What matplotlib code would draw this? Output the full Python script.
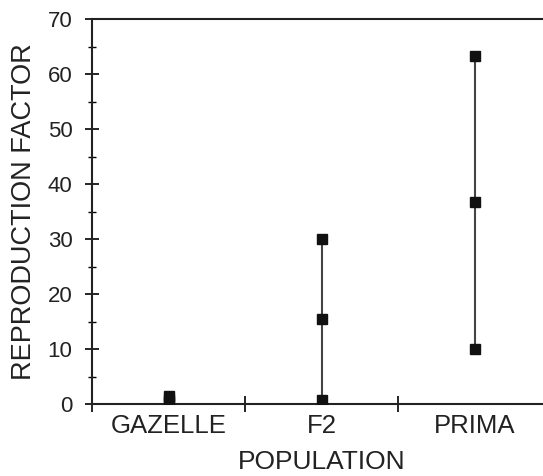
import matplotlib
matplotlib.use("Agg")
import matplotlib.pyplot as plt
from matplotlib.ticker import MultipleLocator, FixedLocator

plt.rcParams['font.family'] = ['Liberation Sans', 'DejaVu Sans']

# reproduction factor per population: low / mean / high
populations = ["GAZELLE", "F2", "PRIMA"]
rf_low = [0.3, 0.8, 10.0]
rf_mean = [0.9, 15.5, 36.7]
rf_high = [1.5, 30.0, 63.3]

fig = plt.figure(figsize=(5.43, 4.76), dpi=100)
ax = fig.add_axes([92 / 543, 72 / 476, 459 / 543, 385 / 476])

xs = [i + 0.5 for i in range(len(populations))]
ax.vlines(xs, rf_low, rf_high, color='#444444', linewidth=1.5, zorder=2)
for vals in (rf_low, rf_mean, rf_high):
    ax.plot(xs, vals, linestyle='none', marker='s', markersize=7,
            color='#111111', zorder=3)

ax.set_xlim(0, 3)
ax.set_ylim(0, 70)

ax.xaxis.set_major_locator(FixedLocator([0, 1, 2, 3]))
ax.xaxis.set_minor_locator(FixedLocator(xs))
ax.set_xticklabels([])
ax.set_xticklabels(populations, minor=True)
ax.tick_params(axis='x', which='major', direction='inout', length=12, width=1.2)
ax.tick_params(axis='x', which='minor', length=0, labelsize=18.5, pad=7,
               labelcolor='#222222')

ax.yaxis.set_major_locator(MultipleLocator(10))
ax.yaxis.set_minor_locator(MultipleLocator(5))
ax.tick_params(axis='y', which='major', direction='inout', length=10, width=1.2,
               labelsize=16, pad=9, labelcolor='#222222')
ax.tick_params(axis='y', which='minor', direction='inout', length=6, width=1.0)

for side in ('left', 'bottom', 'top'):
    ax.spines[side].set_linewidth(1.5)
    ax.spines[side].set_color('#222222')
ax.spines['right'].set_visible(False)

ax.set_xlabel("POPULATION", fontsize=19, labelpad=9, color='#222222')
ax.set_ylabel("REPRODUCTION FACTOR", fontsize=19.5, labelpad=8, color='#222222')

fig.savefig("out.png", dpi=100)
